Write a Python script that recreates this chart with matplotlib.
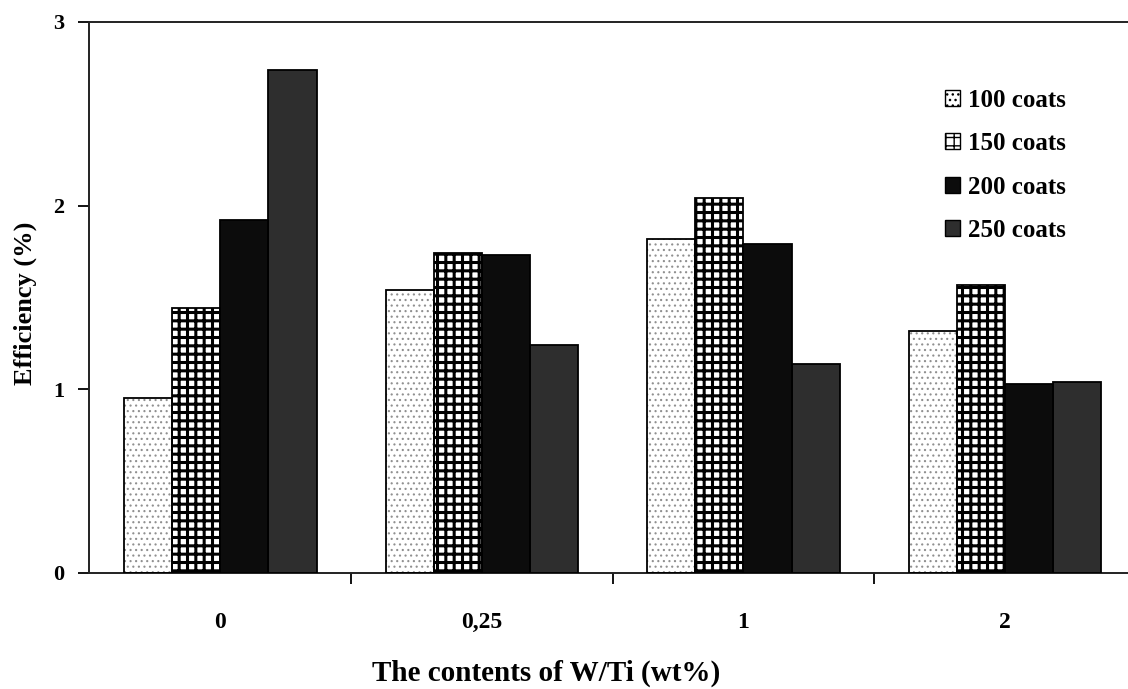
import matplotlib
matplotlib.use("Agg")
import matplotlib.pyplot as plt
from matplotlib.patches import Patch
import numpy as np

# W/Ti content groups and efficiency per number of coats
categories = ["0", "0,25", "1", "2"]
series_labels = ["100 coats", "150 coats", "200 coats", "250 coats"]
eff_100 = [0.95, 1.54, 1.82, 1.32]
eff_150 = [1.44, 1.74, 2.04, 1.57]
eff_200 = [1.92, 1.73, 1.79, 1.03]
eff_250 = [2.74, 1.24, 1.14, 1.04]
y_ticks = [0, 1, 2, 3]

series = [eff_100, eff_150, eff_200, eff_250]

plt.rcParams["font.family"] = ["Liberation Serif", "DejaVu Serif"]
plt.rcParams["font.weight"] = "bold"

# fill, hatch, hatch colour, hatch linewidth for each series
styles = [
    dict(face="white", hatch="...", hcol="#909090", hlw=0.8),
    dict(face="white", hatch="++", hcol="black", hlw=2.2),
    dict(face="#0c0c0c", hatch=None, hcol="black", hlw=1.0),
    dict(face="#2e2e2e", hatch=None, hcol="black", hlw=1.0),
]

fig = plt.figure(figsize=(11.28, 6.89), dpi=100)
ax = fig.add_axes([0.0789, 0.1684, 0.9211, 0.7998])

x = np.arange(len(categories))
width = 0.184
offsets = (np.arange(4) - 1.5) * width

handles = []
for vals, st, off, lab in zip(series, styles, offsets, series_labels):
    with plt.rc_context({"hatch.linewidth": st["hlw"], "hatch.color": st["hcol"]}):
        ax.bar(x + off, vals, width, color=st["face"], hatch=st["hatch"],
               edgecolor=st["hcol"], linewidth=0, zorder=2)
        ax.bar(x + off, vals, width, color="none", edgecolor="black",
               linewidth=1.3, zorder=3)
        handles.append(Patch(facecolor=st["face"], hatch=st["hatch"],
                             edgecolor="black", linewidth=1.0, label=lab))

ax.set_xlim(-0.502, 3.47)
ax.set_ylim(0, 3)

ax.spines["right"].set_visible(False)
for s in ["left", "bottom", "top"]:
    ax.spines[s].set_linewidth(1.4)
    ax.spines[s].set_color("#222222")

ax.set_yticks(y_ticks)
ax.set_yticklabels([str(v) for v in y_ticks])
ax.tick_params(axis="y", direction="out", length=8, width=1.3, pad=10,
               labelsize=16)

ax.set_xticks(x)
ax.set_xticklabels(categories)
ax.set_xticks(x[:-1] + 0.5, minor=True)
ax.tick_params(axis="x", which="major", length=0, pad=28, labelsize=17)
ax.tick_params(axis="x", which="minor", direction="out", length=8, width=1.3)

ax.set_ylabel("Efficiency (%)", fontsize=19, fontweight="bold")
ax.yaxis.set_label_coords(-0.05, 0.49)
ax.set_xlabel("The contents of W/Ti (wt%)", fontsize=21, fontweight="bold")
ax.xaxis.set_label_coords(0.44, -0.158)

leg = ax.legend(handles=handles, loc="upper left", bbox_to_anchor=(0.824, 0.879),
                frameon=False, fontsize=18, handlelength=0.58, handleheight=0.58,
                handletextpad=0.35, labelspacing=0.82, borderaxespad=0,
                borderpad=0)
for t in leg.get_texts():
    t.set_fontweight("bold")

fig.savefig("out.png", dpi=100, facecolor="white")
